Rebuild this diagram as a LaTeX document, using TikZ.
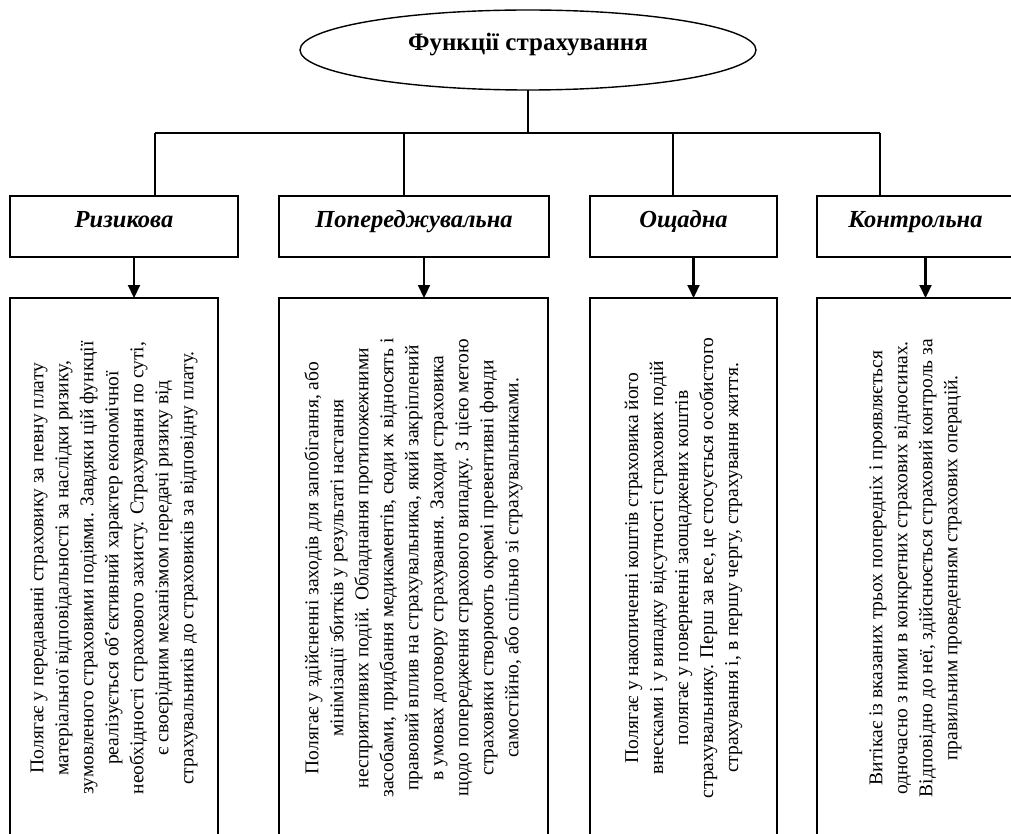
\documentclass[tikz,border=0pt]{standalone}
\usepackage{fontspec}
\setmainfont{Liberation Serif}
\usetikzlibrary{arrows.meta,shapes.geometric,calc}
\tikzset{
  ln/.style   ={draw=black,line width=1.6pt},
  arr/.style  ={ln,line width=2.2pt,-{Triangle[length=13pt,width=12pt]}},
  root/.style ={ellipse,ln,line width=1.4pt,minimum width=456pt,minimum height=80pt,inner sep=0pt,
                text height=17pt,text depth=16pt,font=\fontsize{25}{30}\selectfont\bfseries},
  fn/.style   ={ln,anchor=north west,minimum height=61pt,inner sep=0pt,
                text height=16pt,text depth=13pt,font=\fontsize{24.5}{28}\selectfont\bfseries\itshape},
  desc/.style ={ln,rotate=90,minimum width=540pt,inner sep=0pt,align=center,
                font=\fontsize{19.5}{25}\selectfont},
}

\begin{document}
\begin{tikzpicture}[x=1pt,y=-1pt,every node/.style={outer sep=0pt}]
\useasboundingbox[fill=white] (0,0) rectangle (1011,834);
\clip (0,0) rectangle (1011,834);

\node[root] (root) at (528,50) {Функції страхування};

\node[fn,minimum width=228pt] (f1) at (10,196)  {Ризикова};
\node[fn,minimum width=270pt] (f2) at (279,196) {Попереджувальна};
\node[fn,minimum width=187pt] (f3) at (590,196) {Ощадна};
\node[fn,minimum width=197pt] (f4) at (817,196) {Контрольна};

\node[desc,minimum height=208pt] (r1) at (114,568)
  {Полягає у передаванні страховику за певну плату\\
   матеріальної відповідальності за наслідки ризику,\\
   зумовленого страховими подіями. Завдяки цій функції\\
   реалізується об’єктивний характер економічної\\
   необхідності страхового захисту. Страхування по суті,\\
   є своєрідним механізмом передачі ризику від\\
   страхувальників до страховиків за відповідну плату.};
\node[desc,minimum height=269pt] (r2) at (413.5,568)
  {Полягає у здійсненні заходів для запобігання, або\\
   мінімізації збитків у результаті настання\\
   несприятливих подій. Обладнання протипожежними\\
   засобами, придбання медикаментів, сюди ж відносять і\\
   правовий вплив на страхувальника, який закріплений\\
   в умовах договору страхування. Заходи страховика\\
   щодо попередження страхового випадку. З цією метою\\
   страховики створюють окремі превентивні фонди\\
   самостійно, або спільно зі страхувальниками.};
\node[desc,minimum height=187pt] (r3) at (683.5,568)
  {Полягає у накопиченні коштів страховика його\\
   внесками і у випадку відсутності страхових подій\\
   полягає у поверненні заощаджених коштів\\
   страхувальнику. Перш за все, це стосується особистого\\
   страхування і, в першу чергу, страхування життя.};
\node[desc,minimum height=197pt] (r4) at (915.5,568)
  {Витікає із вказаних трьох попередніх і проявляється\\
   одночасно з ними в конкретних страхових відносинах.\\
   Відповідно до неї, здійснюється страховий контроль за\\
   правильним проведенням страхових операцій.};

% tree
\coordinate (d1) at (155,133);
\coordinate (d2) at (404,133);
\coordinate (d3) at (673,133);
\coordinate (d4) at (880,133);
\draw[ln] (root.south) -- (root.south |- d1);
\draw[ln] (d1) -- (d4);
\foreach \i in {1,...,4}
  {\draw[ln] (d\i) -- (d\i |- f\i.north);
   \draw[arr] ([xshift=10pt]f\i.south) -- ([xshift=10pt]f\i.south |- r\i.east);}
\end{tikzpicture}
\end{document}
